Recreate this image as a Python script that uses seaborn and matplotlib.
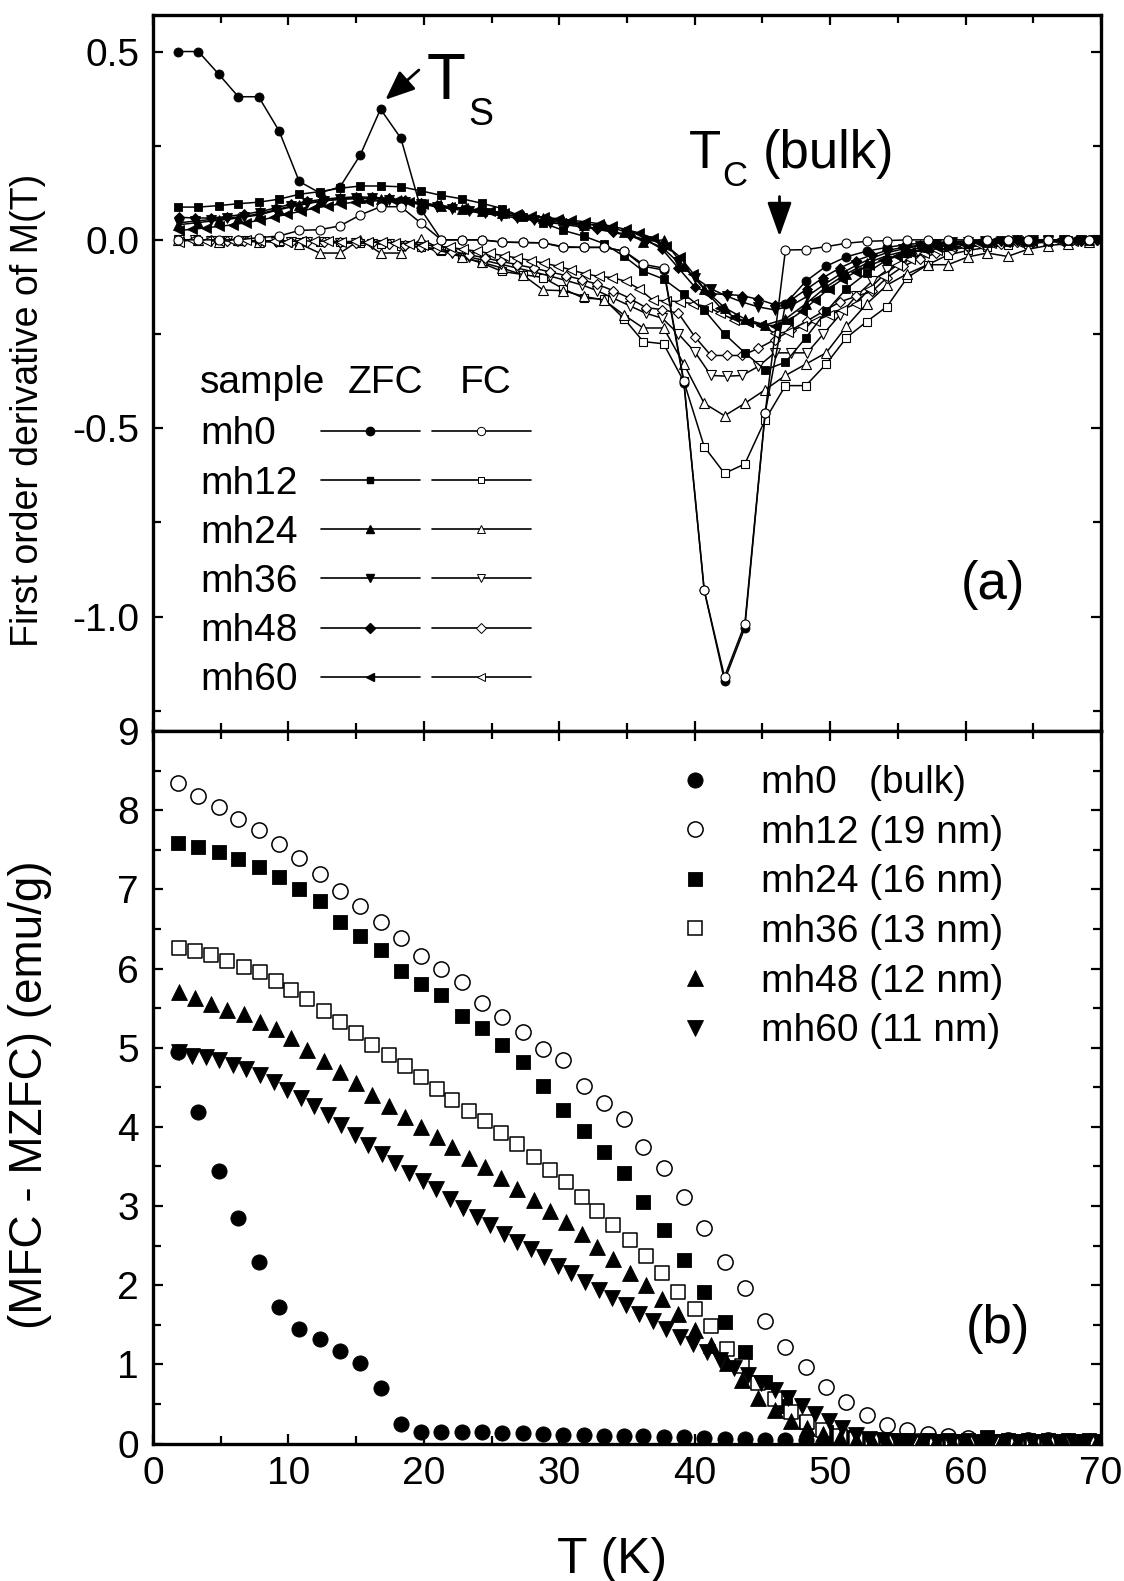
import numpy as np
import pandas as pd
import matplotlib
matplotlib.use("Agg")
import matplotlib.pyplot as plt
import seaborn as sns
from matplotlib.lines import Line2D
from matplotlib.legend_handler import HandlerTuple
from matplotlib.ticker import MultipleLocator, FormatStrFormatter

# ---------------- temperature grids (K) ----------------
T_a = [1.85, 3.35, 4.85, 6.3, 7.8, 9.3, 10.8, 12.3, 13.8, 15.3,
       16.8, 18.3, 19.8, 21.3, 22.8, 24.3, 25.8, 27.3, 28.8, 30.3,
       31.8, 33.3, 34.8, 36.2, 37.7, 39.2, 40.7, 42.2, 43.7, 45.2,
       46.7, 48.2, 49.7, 51.2, 52.7, 54.2, 55.7, 57.2, 58.7, 60.2,
       61.6, 63.1, 64.6, 66.1, 67.6, 69.1]
T_b = [1.9, 3.1, 4.3, 5.5, 6.7, 7.9, 9.1, 10.2, 11.4, 12.6,
       13.8, 15.0, 16.2, 17.4, 18.6, 19.8, 21.0, 22.1, 23.3, 24.5,
       25.7, 26.9, 28.1, 29.3, 30.5, 31.7, 32.8, 34.0, 35.2, 36.4,
       37.6, 38.8, 40.0, 41.2, 42.4, 43.5, 44.7, 45.9, 47.1, 48.3,
       49.5, 50.7, 51.9, 53.1, 54.2, 55.4, 56.6, 57.8, 59.0, 60.2,
       61.4, 62.6, 63.8, 65.0, 66.1, 67.3, 68.5, 69.7]
T_c = [1.9, 2.9, 3.9, 4.9, 5.9, 6.9, 7.9, 8.9, 9.9, 10.9,
       11.9, 12.9, 13.9, 14.9, 15.9, 16.9, 17.9, 18.9, 19.9, 20.9,
       21.9, 22.9, 23.9, 24.9, 25.9, 26.9, 27.9, 28.9, 29.9, 30.9,
       31.9, 32.9, 33.9, 34.9, 35.9, 36.9, 37.9, 38.9, 39.9, 40.9,
       41.9, 42.9, 43.9, 44.9, 45.9, 46.9, 47.9, 48.9, 49.9, 50.9,
       51.9, 52.9, 53.9, 54.9, 55.9, 56.9, 57.9, 58.9, 59.9, 60.9,
       61.9, 62.9, 63.9, 64.9, 65.9, 66.9, 67.9, 68.9, 69.9]

# ---------------- panel (a): dM/dT ----------------
d_mh0_zfc = [0.50, 0.50, 0.44, 0.38, 0.38, 0.29, 0.155, 0.125, 0.14, 0.225,
             0.347, 0.27, 0.08, 0.0, 0.0, 0.0, -0.006, -0.007, -0.008, -0.018,
             -0.02, -0.02, -0.03, -0.07, -0.08, -0.38, -0.93, -1.17, -1.03, -0.46,
             -0.17, -0.11, -0.07, -0.045, -0.03, -0.02, -0.012, -0.008, -0.005, -0.003,
             -0.002, -0.001, 0.0, 0.0, 0.0, 0.0]
d_mh0_fc = [0.0, 0.0, 0.0, 0.0, 0.006, 0.01, 0.025, 0.027, 0.037, 0.066,
            0.088, 0.088, 0.044, 0.0, 0.0, 0.0, -0.006, -0.007, -0.008, -0.02,
            -0.02, -0.02, -0.03, -0.065, -0.075, -0.376, -0.93, -1.16, -1.02, -0.46,
            -0.027, -0.026, -0.018, -0.009, -0.004, -0.002, 0.0, 0.0, 0.0, 0.0,
            0.0, 0.0, 0.0, 0.0, 0.0, 0.0]
d_mh12_zfc = [0.087, 0.087, 0.091, 0.096, 0.100, 0.108, 0.121, 0.128, 0.137, 0.143,
              0.143, 0.141, 0.130, 0.118, 0.109, 0.097, 0.083, 0.060, 0.045, 0.025,
              0.010, -0.010, -0.044, -0.083, -0.104, -0.144, -0.186, -0.250, -0.300, -0.345,
              -0.325, -0.26, -0.19, -0.13, -0.088, -0.053, -0.034, -0.022, -0.015, -0.010,
              -0.006, -0.004, -0.002, 0.0, 0.0, 0.0]
d_mh12_fc = [0.0, -0.002, -0.003, -0.004, -0.005, -0.005, -0.005, -0.006, -0.006, -0.008,
             -0.01, -0.015, -0.02, -0.03, -0.045, -0.062, -0.084, -0.092, -0.10, -0.13,
             -0.155, -0.157, -0.21, -0.27, -0.276, -0.376, -0.549, -0.62, -0.595, -0.478,
             -0.387, -0.387, -0.33, -0.26, -0.217, -0.177, -0.10, -0.066, -0.04, -0.028,
             -0.02, -0.014, -0.01, -0.006, -0.004, -0.002]
d_mh24_zfc = [0.040, 0.046, 0.052, 0.058, 0.066, 0.080, 0.092, 0.102, 0.108, 0.110,
              0.109, 0.105, 0.098, 0.090, 0.083, 0.077, 0.071, 0.066, 0.058, 0.053,
              0.040, 0.040, 0.022, -0.005, 0.0, -0.07, -0.13, -0.18, -0.21, -0.226,
              -0.21, -0.17, -0.125, -0.09, -0.062, -0.042, -0.028, -0.018, -0.012, -0.008,
              -0.005, -0.003, -0.002, -0.001, 0.0, 0.0]
d_mh24_fc = [0.0, 0.0, -0.005, 0.0, -0.005, 0.0, -0.01, -0.035, -0.035, 0.0,
             -0.035, -0.035, 0.002, -0.025, -0.045, -0.06, -0.075, -0.093, -0.133, -0.135,
             -0.15, -0.16, -0.20, -0.234, -0.234, -0.33, -0.434, -0.467, -0.434, -0.398,
             -0.36, -0.33, -0.30, -0.23, -0.17, -0.12, -0.09, -0.066, -0.066, -0.045,
             -0.035, -0.044, -0.025, -0.015, -0.01, -0.005]
d_mh36_zfc = [0.045, 0.050, 0.054, 0.058, 0.062, 0.070, 0.080, 0.090, 0.098, 0.104,
              0.108, 0.110, 0.110, 0.106, 0.100, 0.094, 0.088, 0.082, 0.076, 0.070,
              0.064, 0.058, 0.052, 0.046, 0.040, 0.034, 0.028, 0.020, 0.010, -0.002,
              -0.020, -0.060, -0.100, -0.130, -0.150, -0.165, -0.178, -0.186, -0.175, -0.150,
              -0.120, -0.092, -0.068, -0.048, -0.034, -0.024, -0.016, -0.011, -0.007, -0.005,
              -0.003, -0.002, -0.001, -0.001, 0.0, 0.0, 0.0, 0.0]
d_mh36_fc = [0.0, 0.0, -0.002, -0.003, -0.004, -0.004, -0.005, -0.006, -0.006, -0.007,
             -0.008, -0.009, -0.010, -0.012, -0.015, -0.020, -0.028, -0.036, -0.045, -0.055,
             -0.065, -0.075, -0.085, -0.096, -0.108, -0.120, -0.135, -0.155, -0.175, -0.195,
             -0.208, -0.250, -0.297, -0.360, -0.362, -0.360, -0.336, -0.300, -0.300, -0.300,
             -0.250, -0.200, -0.150, -0.110, -0.080, -0.058, -0.042, -0.030, -0.022, -0.016,
             -0.012, -0.009, -0.007, -0.005, -0.004, -0.003, -0.002, -0.001]
d_mh48_zfc = [0.060, 0.058, 0.058, 0.062, 0.068, 0.075, 0.085, 0.095, 0.102, 0.108,
              0.112, 0.114, 0.113, 0.110, 0.105, 0.098, 0.092, 0.086, 0.080, 0.074,
              0.068, 0.062, 0.056, 0.050, 0.044, 0.038, 0.030, 0.022, 0.012, 0.000,
              -0.025, -0.075, -0.125, -0.143, -0.145, -0.148, -0.158, -0.172, -0.160, -0.130,
              -0.100, -0.075, -0.055, -0.040, -0.028, -0.020, -0.014, -0.010, -0.006, -0.004,
              -0.003, -0.002, -0.001, 0.0, 0.0, 0.0, 0.0, 0.0]
d_mh48_fc = [0.0, 0.0, 0.0, -0.002, -0.003, -0.003, -0.004, -0.005, -0.005, -0.006,
             -0.007, -0.008, -0.009, -0.011, -0.014, -0.018, -0.024, -0.031, -0.039, -0.048,
             -0.057, -0.066, -0.075, -0.085, -0.095, -0.106, -0.118, -0.135, -0.155, -0.180,
             -0.185, -0.195, -0.257, -0.307, -0.307, -0.307, -0.288, -0.265, -0.240, -0.215,
             -0.190, -0.165, -0.150, -0.137, -0.100, -0.070, -0.050, -0.036, -0.026, -0.019,
             -0.014, -0.010, -0.007, -0.005, -0.004, -0.003, -0.002, -0.001]
d_mh60_zfc = [0.025, 0.028, 0.032, 0.036, 0.040, 0.046, 0.052, 0.060, 0.068, 0.076,
              0.084, 0.090, 0.096, 0.100, 0.103, 0.104, 0.103, 0.100, 0.096, 0.092,
              0.088, 0.084, 0.080, 0.076, 0.072, 0.068, 0.064, 0.060, 0.056, 0.052,
              0.048, 0.043, 0.036, 0.028, 0.018, 0.005, -0.015, -0.045, -0.090, -0.140,
              -0.180, -0.205, -0.218, -0.225, -0.228, -0.215, -0.190, -0.160, -0.130, -0.105,
              -0.085, -0.068, -0.054, -0.042, -0.033, -0.025, -0.019, -0.014, -0.010, -0.007,
              -0.005, -0.004, -0.003, -0.002, -0.001, -0.001, 0.0, 0.0, 0.0]
d_mh60_fc = [-0.005, 0.0, -0.004, -0.002, -0.004, 0.0, -0.004, -0.002, -0.005, -0.002,
             -0.004, -0.003, -0.005, -0.004, -0.006, -0.007, -0.008, -0.010, -0.013, -0.016,
             -0.020, -0.025, -0.030, -0.036, -0.042, -0.048, -0.055, -0.062, -0.070, -0.080,
             -0.090, -0.097, -0.100, -0.110, -0.130, -0.160, -0.162, -0.164, -0.170, -0.177,
             -0.195, -0.212, -0.217, -0.226, -0.248, -0.245, -0.230, -0.215, -0.200, -0.185,
             -0.170, -0.130, -0.095, -0.068, -0.050, -0.036, -0.026, -0.020, -0.015, -0.011,
             -0.008, -0.006, -0.005, -0.004, -0.003, -0.002, -0.002, -0.001, -0.001]

# ---------------- panel (b): MFC - MZFC (emu/g) ----------------
m_mh0 = [4.95, 4.19, 3.44, 2.85, 2.29, 1.73, 1.45, 1.32, 1.17, 1.02,
         0.70, 0.25, 0.15, 0.15, 0.14, 0.14, 0.13, 0.13, 0.12, 0.11,
         0.11, 0.10, 0.10, 0.09, 0.08, 0.08, 0.07, 0.06, 0.06, 0.05,
         0.05, 0.04, 0.04, 0.03, 0.03, 0.02, 0.02, 0.02, 0.02, 0.01,
         0.01, 0.01, 0.01, 0.01, 0.01, 0.01]
m_mh12 = [8.34, 8.18, 8.04, 7.89, 7.75, 7.57, 7.40, 7.19, 6.98, 6.79,
          6.59, 6.38, 6.16, 5.99, 5.83, 5.57, 5.39, 5.20, 4.98, 4.85,
          4.52, 4.30, 4.10, 3.75, 3.48, 3.12, 2.72, 2.29, 1.97, 1.55,
          1.22, 0.97, 0.72, 0.53, 0.36, 0.24, 0.17, 0.12, 0.09, 0.07,
          0.06, 0.05, 0.04, 0.04, 0.03, 0.03]
m_mh24 = [7.59, 7.54, 7.47, 7.38, 7.28, 7.16, 7.01, 6.85, 6.59, 6.41,
          6.24, 5.97, 5.81, 5.66, 5.40, 5.25, 5.03, 4.82, 4.51, 4.21,
          3.95, 3.68, 3.42, 3.05, 2.70, 2.32, 1.92, 1.53, 1.15, 0.78,
          0.48, 0.27, 0.14, 0.08, 0.06, 0.05, 0.05, 0.05, 0.05, 0.05,
          0.08, 0.05, 0.04, 0.04, 0.04, 0.04]
m_mh36 = [6.26, 6.22, 6.17, 6.10, 6.02, 5.95, 5.84, 5.73, 5.61, 5.46,
          5.32, 5.19, 5.04, 4.91, 4.77, 4.63, 4.48, 4.34, 4.20, 4.08,
          3.92, 3.78, 3.62, 3.46, 3.30, 3.11, 2.94, 2.76, 2.57, 2.37,
          2.16, 1.92, 1.70, 1.48, 1.20, 0.98, 0.76, 0.56, 0.40, 0.27,
          0.17, 0.10, 0.06, 0.04, 0.03, 0.03, 0.03, 0.02, 0.02, 0.02,
          0.02, 0.02, 0.02, 0.02, 0.02, 0.02, 0.02, 0.02]
m_mh48 = [5.70, 5.63, 5.55, 5.48, 5.42, 5.33, 5.23, 5.12, 4.97, 4.83,
          4.69, 4.56, 4.40, 4.26, 4.13, 4.00, 3.87, 3.74, 3.61, 3.49,
          3.35, 3.21, 3.07, 2.94, 2.80, 2.65, 2.48, 2.33, 2.16, 2.00,
          1.83, 1.64, 1.44, 1.24, 1.02, 0.80, 0.58, 0.42, 0.29, 0.19,
          0.12, 0.07, 0.04, 0.03, 0.02, 0.02, 0.02, 0.02, 0.02, 0.02,
          0.02, 0.02, 0.02, 0.02, 0.02, 0.02, 0.02, 0.02]
m_mh60 = [4.95, 4.90, 4.88, 4.84, 4.78, 4.73, 4.65, 4.57, 4.47, 4.37,
          4.26, 4.15, 4.02, 3.90, 3.77, 3.66, 3.54, 3.42, 3.32, 3.21,
          3.09, 2.97, 2.86, 2.76, 2.65, 2.55, 2.46, 2.35, 2.24, 2.15,
          2.04, 1.94, 1.84, 1.75, 1.64, 1.55, 1.45, 1.35, 1.26, 1.16,
          1.06, 0.96, 0.87, 0.77, 0.67, 0.57, 0.47, 0.37, 0.28, 0.19,
          0.11, 0.06, 0.04, 0.03, 0.02, 0.02, 0.02, 0.02, 0.02, 0.02,
          0.02, 0.02, 0.02, 0.02, 0.02, 0.02, 0.02, 0.02, 0.02]

samples = ["mh0", "mh12", "mh24", "mh36", "mh48", "mh60"]
top_markers = ["o", "s", "^", "v", "D", "<"]
bottom_labels = ["mh0   (bulk)", "mh12 (19 nm)", "mh24 (16 nm)",
                 "mh36 (13 nm)", "mh48 (12 nm)", "mh60 (11 nm)"]

# ---------------- style ----------------
sns.set_theme(style="ticks")
plt.rcParams["font.family"] = ["Liberation Sans", "DejaVu Sans"]
plt.rcParams["axes.unicode_minus"] = False
for k in ["text.color", "axes.labelcolor", "xtick.color", "ytick.color", "axes.edgecolor"]:
    plt.rcParams[k] = "black"

W, H = 1124, 1581
fig = plt.figure(figsize=(W / 100, H / 100), dpi=100)
fig.patch.set_facecolor("white")
ax1 = fig.add_axes([153 / W, 1 - 731 / H, 948 / W, 716 / H])
ax2 = fig.add_axes([153 / W, 1 - 1443.5 / H, 948 / W, 712.5 / H])

# ---------------- panel (a) lines ----------------
top_series = [
    (T_a, d_mh0_zfc, d_mh0_fc, "o", 6.5),
    (T_a, d_mh12_zfc, d_mh12_fc, "s", 5.5),
    (T_a, d_mh24_zfc, d_mh24_fc, "^", 7.0),
    (T_b, d_mh36_zfc, d_mh36_fc, "v", 7.0),
    (T_b, d_mh48_zfc, d_mh48_fc, "D", 5.5),
    (T_c, d_mh60_zfc, d_mh60_fc, "<", 7.0),
]


def draw_line(T, v, mk, ms, filled):
    sns.lineplot(x=T, y=v, ax=ax1, color="black", lw=1.1, marker=mk, markersize=ms,
                 markerfacecolor="black" if filled else "white",
                 markeredgecolor="black", markeredgewidth=0.6 if filled else 0.8,
                 estimator=None, sort=False, legend=False)


for T, zfc, fc, mk, ms in top_series[1:]:
    draw_line(T, fc, mk, ms, False)
for T, zfc, fc, mk, ms in top_series:
    draw_line(T, zfc, mk, ms, True)
T0, zfc0, fc0, mk0, ms0 = top_series[0]
draw_line(T0, fc0, mk0, ms0, False)

# ---------------- panel (b) scatter ----------------
bottom_series = [
    (T_a, m_mh0, "o", True, 120),
    (T_a, m_mh12, "o", False, 120),
    (T_a, m_mh24, "s", True, 95),
    (T_b, m_mh36, "s", False, 95),
    (T_b, m_mh48, "^", True, 130),
    (T_c, m_mh60, "v", True, 130),
]
for T, v, mk, filled, s in bottom_series:
    sns.scatterplot(x=T, y=v, ax=ax2, marker=mk, s=s,
                    color="black" if filled else "white",
                    edgecolor="black", linewidth=0.6 if filled else 1.1,
                    legend=False, zorder=3)

# ---------------- axes formatting ----------------
for ax in (ax1, ax2):
    ax.set_xlim(0, 70)
    ax.xaxis.set_major_locator(MultipleLocator(10))
    ax.xaxis.set_minor_locator(MultipleLocator(5))
    ax.tick_params(which="both", direction="in", top=True, right=True,
                   width=1.6, color="black", labelsize=28)
    ax.tick_params(which="major", length=7)
    ax.tick_params(which="minor", length=6)
    ax.tick_params(axis="y", pad=10)
    ax.tick_params(axis="x", pad=9)
    for sp in ax.spines.values():
        sp.set_linewidth(2.4)
        sp.set_color("black")
    ax.set_facecolor("white")

ax1.tick_params(labelbottom=False)
ax1.set_ylim(-1.304, 0.597)
ax1.yaxis.set_major_locator(MultipleLocator(0.5))
ax1.yaxis.set_minor_locator(MultipleLocator(0.25))
ax1.yaxis.set_major_formatter(FormatStrFormatter("%.1f"))
ax2.set_ylim(0, 9)
ax2.yaxis.set_major_locator(MultipleLocator(1))
ax2.yaxis.set_minor_locator(MultipleLocator(0.5))

ax1.set_xlabel("")
ax1.set_ylabel("First order derivative of M(T)", fontsize=27)
ax1.yaxis.set_label_coords(-0.132, 0.448)
ax1.yaxis.label.set_va("center")
ax2.set_ylabel("(MFC - MZFC) (emu/g)", fontsize=33)
ax2.yaxis.set_label_coords(-0.13, 0.49)
ax2.yaxis.label.set_va("center")
ax2.set_xlabel("T (K)", fontsize=36)
ax2.xaxis.set_label_coords(0.484, -0.163)
ax2.xaxis.label.set_va("center")

# ---------------- panel labels & annotations ----------------
ax1.text(0.886, 0.204, "(a)", transform=ax1.transAxes, fontsize=38, ha="center", va="center")
ax2.text(0.891, 0.161, "(b)", transform=ax2.transAxes, fontsize=38, ha="center", va="center")

ax1.text(20.2, 0.374, "T", fontsize=46, ha="left", va="baseline")
ax1.text(23.3, 0.305, "S", fontsize=27, ha="left", va="baseline")
ax1.annotate("", xy=(17.16, 0.372), xytext=(19.63, 0.451),
             arrowprops=dict(arrowstyle="-|>,head_length=0.6,head_width=0.25",
                             mutation_scale=30, lw=2, color="black",
                             shrinkA=0, shrinkB=0))
ax1.text(39.54, 0.19, "T", fontsize=38, ha="left", va="baseline")
ax1.text(42.07, 0.142, "C", fontsize=25, ha="left", va="baseline")
ax1.text(44.99, 0.19, "(bulk)", fontsize=38, ha="left", va="baseline")
ax1.annotate("", xy=(46.26, 0.009), xytext=(46.26, 0.115),
             arrowprops=dict(arrowstyle="-|>,head_length=0.7,head_width=0.25",
                             mutation_scale=30, lw=2, color="black",
                             shrinkA=0, shrinkB=0))

# ---------------- legend panel (a) ----------------
ax1.text(0.0496, 0.472, "sample", transform=ax1.transAxes, fontsize=28, va="baseline")
ax1.text(0.2057, 0.472, "ZFC", transform=ax1.transAxes, fontsize=28, va="baseline")
ax1.text(0.3238, 0.472, "FC", transform=ax1.transAxes, fontsize=28, va="baseline")

blank = [Line2D([], [], ls="none") for _ in samples]
pairs = []
for mk in top_markers:
    msz = 5 if mk in ("s", "D") else 6
    pairs.append((Line2D([], [], color="black", lw=1.2, marker=mk, ms=msz,
                         mfc="black", mec="black"),
                  Line2D([], [], color="black", lw=1.2, marker=mk, ms=msz,
                         mfc="white", mec="black", mew=0.7)))
fs = 28 * 100 / 72.0
hl, htp = 5.4, 0.4
left_px = 200 - htp * fs - hl * fs
leg1 = ax1.legend(blank + pairs, samples + [""] * 6, ncol=2, loc="upper left",
                  bbox_to_anchor=((left_px - 153) / 948, 0.4395),
                  frameon=False, fontsize=28, handlelength=hl, handletextpad=htp,
                  columnspacing=0.6, labelspacing=0.34, borderpad=0, borderaxespad=0,
                  numpoints=1, handler_map={tuple: HandlerTuple(ndivide=None, pad=0.3)})

# ---------------- legend panel (b) ----------------
bh = []
for T, v, mk, filled, s in bottom_series:
    bh.append(Line2D([], [], ls="none", marker=mk, ms=np.sqrt(s) * 1.0,
                     mfc="black" if filled else "white", mec="black",
                     mew=0.6 if filled else 1.1))
ax2.legend(bh, bottom_labels, loc="upper left", bbox_to_anchor=(0.5517, 0.952),
           frameon=False, fontsize=28, handlelength=1.0, handletextpad=1.18,
           labelspacing=0.35, borderpad=0, borderaxespad=0, numpoints=1)

fig.savefig("out.png", dpi=100, facecolor="white")
